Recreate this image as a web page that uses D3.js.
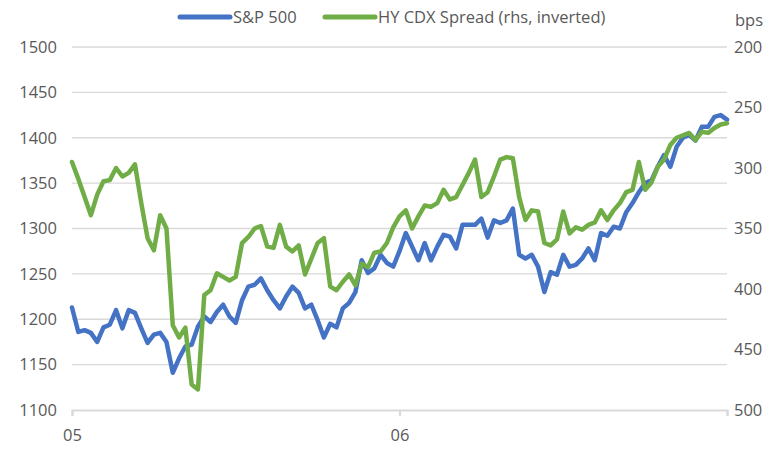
<!DOCTYPE html>
<html>
<head>
<meta charset="utf-8">
<script src="https://cdn.jsdelivr.net/npm/d3@7"></script>
<style>
  body { margin: 0; background: #fff; }
  svg { display: block; font-family: "Open Sans", "Liberation Sans", sans-serif; }
  .legend text { fill: #595959; font-size: 16.5px; }
</style>
</head>
<body>
<div class="chart"></div>
<script>
// weekly observations, Jan 2005 - end 2006
const spx = [
  1213, 1186, 1188, 1185, 1175, 1191, 1194, 1210, 1190, 1210,
  1207, 1190, 1174, 1183, 1185, 1175, 1141, 1157, 1170, 1172,
  1192, 1203, 1197, 1208, 1216, 1203, 1196, 1221, 1236, 1238,
  1245, 1232, 1221, 1212, 1225, 1236, 1229, 1212, 1216, 1199,
  1180, 1195, 1191, 1212, 1218, 1230, 1265, 1251, 1256, 1271,
  1262, 1258, 1275, 1295, 1280, 1265, 1284, 1265, 1280, 1293,
  1291, 1278, 1304, 1304, 1304, 1311, 1290, 1309, 1306, 1309,
  1322, 1271, 1267, 1271, 1258, 1230, 1252, 1249, 1271, 1258,
  1260, 1267, 1278, 1265, 1295, 1292, 1302, 1300, 1318, 1328,
  1340, 1350, 1353, 1368, 1381, 1368, 1390, 1400, 1403, 1397,
  1412, 1412, 1423, 1425, 1420
];

const hyCdx = [
  295, 309, 324, 339, 322, 311, 310, 300, 307, 304,
  297, 329, 358, 368, 339, 350, 430, 440, 432, 479,
  483, 405, 401, 387, 390, 393, 390, 362, 357, 350,
  348, 365, 366, 347, 365, 369, 364, 388, 375, 362,
  358, 398, 401, 394, 388, 397, 379, 382, 370, 369,
  362, 349, 340, 335, 350, 340, 331, 332, 329, 318,
  326, 324, 314, 304, 293, 324, 320, 307, 293, 291,
  292, 324, 343, 335, 336, 362, 364, 359, 336, 354,
  349, 351, 347, 345, 335, 343, 335, 329, 320, 318,
  295, 318, 312, 299, 293, 281, 275, 273, 271, 277,
  270, 271, 267, 264, 263
];

const seriesNames = ["S&P 500", "HY CDX Spread (rhs, inverted)"];
const seriesColors = ["#4472C4", "#70AD47"];

const leftTicks = [1100, 1150, 1200, 1250, 1300, 1350, 1400, 1450, 1500];
const rightTicks = [200, 250, 300, 350, 400, 450, 500];
const xTickWeeks = [0, 52, 104];
const xTickLabels = ["05", "06", ""];

const width = 782, height = 449;
const margin = { top: 47, right: 55, bottom: 39, left: 72 };

const svg = d3.select(".chart").append("svg")
  .attr("width", width)
  .attr("height", height);

const x = d3.scaleLinear()
  .domain([0, spx.length - 1])
  .range([margin.left, width - margin.right]);

const yL = d3.scaleLinear()
  .domain([1100, 1500])
  .range([height - margin.bottom, margin.top]);

// inverted spread axis
const yR = d3.scaleLinear()
  .domain([200, 500])
  .range([margin.top, height - margin.bottom]);

// gridlines
svg.append("g")
  .selectAll("line")
  .data(leftTicks.slice(1))
  .join("line")
  .attr("x1", x.range()[0])
  .attr("x2", x.range()[1])
  .attr("y1", d => yL(d))
  .attr("y2", d => yL(d))
  .attr("stroke", "#D9D9D9")
  .attr("stroke-width", 1.3);

// left axis
const leftAxis = svg.append("g")
  .attr("transform", `translate(${margin.left}, 0)`)
  .call(d3.axisLeft(yL).tickValues(leftTicks).tickFormat(d3.format("d")).tickSize(0).tickPadding(15));
leftAxis.select(".domain").remove();

// right axis
const rightAxis = svg.append("g")
  .attr("transform", `translate(${width - margin.right}, 0)`)
  .call(d3.axisRight(yR).tickValues(rightTicks).tickSize(0).tickPadding(7));
rightAxis.select(".domain").remove();

// bottom axis
const bottomAxis = svg.append("g")
  .attr("transform", `translate(0, ${height - margin.bottom})`)
  .call(d3.axisBottom(x)
    .tickValues(xTickWeeks)
    .tickSize(6)
    .tickPadding(13)
    .tickFormat((d, i) => xTickLabels[i]));
bottomAxis.select(".domain")
  .attr("stroke", "#D9D9D9")
  .attr("stroke-width", 2);
bottomAxis.selectAll(".tick line")
  .attr("stroke", "#D9D9D9")
  .attr("stroke-width", 2);

svg.selectAll(".tick text")
  .attr("fill", "#595959")
  .style("font-family", "'Open Sans', 'Liberation Sans', sans-serif")
  .style("font-size", "16.5px");

// lines
const lineL = d3.line().x((d, i) => x(i)).y(d => yL(d));
const lineR = d3.line().x((d, i) => x(i)).y(d => yR(d));

svg.append("path")
  .datum(spx)
  .attr("fill", "none")
  .attr("stroke", seriesColors[0])
  .attr("stroke-width", 4.5)
  .attr("stroke-linejoin", "round")
  .attr("stroke-linecap", "round")
  .attr("d", lineL);

svg.append("path")
  .datum(hyCdx)
  .attr("fill", "none")
  .attr("stroke", seriesColors[1])
  .attr("stroke-width", 4.5)
  .attr("stroke-linejoin", "round")
  .attr("stroke-linecap", "round")
  .attr("d", lineR);

// legend
const legend = svg.append("g").attr("class", "legend");
const legendX = [180, 325];
seriesNames.forEach((name, i) => {
  const g = legend.append("g").attr("transform", `translate(${legendX[i]}, 17)`);
  g.append("line")
    .attr("x1", 0).attr("x2", 50)
    .attr("stroke", seriesColors[i])
    .attr("stroke-width", 5)
    .attr("stroke-linecap", "round");
  g.append("text")
    .attr("x", 53)
    .attr("dy", "0.35em")
    .text(name);
});

svg.append("text")
  .attr("x", 735)
  .attr("y", 26)
  .attr("fill", "#595959")
  .style("font-size", "16.5px")
  .text("bps");
</script>
</body>
</html>
